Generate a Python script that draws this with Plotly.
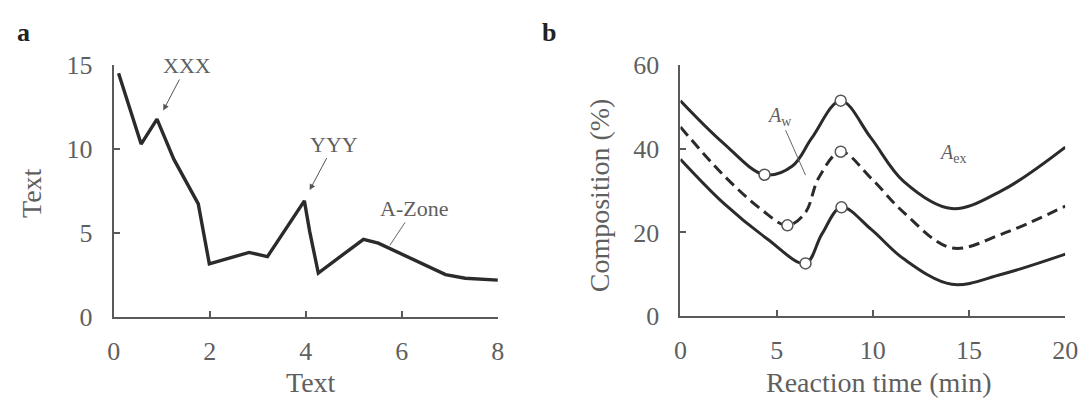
import plotly.graph_objects as go

# Panel a data
a_x = [0.1, 0.57, 0.9, 1.25, 1.76, 1.99, 2.82, 3.2, 3.97, 4.08, 4.26, 5.2, 5.51, 6.91, 7.32, 8.0]
a_y = [14.52, 10.3, 11.78, 9.4, 6.74, 3.17, 3.85, 3.6, 6.92, 5.1, 2.62, 4.63, 4.4, 2.53, 2.31, 2.2]

# Panel b data
top_x = [0, 2.2, 4.37, 5.82, 6.83, 8.33, 9.9, 11.6, 14.1, 16.7, 20]
top_y = [51.5, 41.5, 33.8, 35.9, 42.6, 51.5, 42.6, 32.2, 25.7, 30, 40.4]
mid_x = [0, 2.24, 4.2, 5.56, 6.5, 7.18, 8.33, 9.9, 11.6, 14.1, 16.7, 20]
mid_y = [45.2, 33.7, 25.5, 21.7, 24.8, 33, 39.3, 33, 24.8, 16.3, 19.6, 26.3]
bot_x = [0, 2.24, 4.5, 6.5, 7.35, 8.37, 9.9, 11.6, 14.1, 16.7, 20]
bot_y = [37.5, 27, 18.5, 12.6, 19.6, 26, 20.8, 13.7, 7.6, 10, 14.8]
circ_x = [4.37, 8.33, 5.56, 8.33, 6.5, 8.37]
circ_y = [33.8, 51.5, 21.7, 39.3, 12.6, 26]

a_xticks = [0, 2, 4, 6, 8]
a_yticks = [0, 5, 10, 15]
b_xticks = [0, 5, 10, 15, 20]
b_yticks = [0, 20, 40, 60]

LINE = "#2b2b2b"
AX = "#5a5a5a"
TXT = "#5f5f5f"
FONT = "Liberation Serif"

fig = go.Figure()
fig.add_trace(go.Scatter(x=a_x, y=a_y, mode="lines", line=dict(color=LINE, width=3.4),
                         xaxis="x", yaxis="y", showlegend=False))
fig.add_trace(go.Scatter(x=top_x, y=top_y, mode="lines", line=dict(color=LINE, width=3, shape="spline", smoothing=1.0),
                         xaxis="x2", yaxis="y2", showlegend=False))
fig.add_trace(go.Scatter(x=mid_x, y=mid_y, mode="lines", line=dict(color=LINE, width=3, dash="11px,6px", shape="spline", smoothing=1.0),
                         xaxis="x2", yaxis="y2", showlegend=False))
fig.add_trace(go.Scatter(x=bot_x, y=bot_y, mode="lines", line=dict(color=LINE, width=3, shape="spline", smoothing=1.0),
                         xaxis="x2", yaxis="y2", showlegend=False))
fig.add_trace(go.Scatter(x=circ_x, y=circ_y, mode="markers",
                         marker=dict(symbol="circle", size=11, color="white", line=dict(color="#555", width=1.5)),
                         xaxis="x2", yaxis="y2", showlegend=False))

axis_common = dict(showline=True, linecolor=AX, linewidth=2, ticks="inside", ticklen=6, tickwidth=1.5,
                   tickcolor=AX, showgrid=False, zeroline=False,
                   tickfont=dict(family=FONT, size=26, color=TXT))

fig.update_layout(
    width=1092, height=412, margin=dict(l=0, r=0, t=0, b=0),
    paper_bgcolor="white", plot_bgcolor="white",
    xaxis=dict(domain=[0.0996, 0.4579], range=[0, 8], tickvals=a_xticks, anchor="y", ticklabelstandoff=10, **axis_common),
    yaxis=dict(domain=[0.2087, 0.8665], range=[0, 15], tickvals=a_yticks, anchor="x", ticklabelstandoff=14, **axis_common),
    xaxis2=dict(domain=[0.6282, 0.9872], range=[0, 20], tickvals=b_xticks, anchor="y2", ticklabelstandoff=10, **axis_common),
    yaxis2=dict(domain=[0.2112, 0.8665], range=[0, 60], tickvals=b_yticks, anchor="x2", ticklabelstandoff=14, **axis_common),
)

tf = dict(family=FONT, size=28, color=TXT)
C = dict(xanchor="center", yanchor="middle")
ann = [
    dict(text="<b>a</b>", x=17/1092, y=1-20/412, xref="paper", yref="paper", showarrow=False,
         font=dict(family=FONT, size=26, color="#222"), **C),
    dict(text="<b>b</b>", x=552/1092, y=1-20/412, xref="paper", yref="paper", showarrow=False,
         font=dict(family=FONT, size=26, color="#222"), **C),
    dict(text="Text", x=25/1092, y=1-193/412, xref="paper", yref="paper", showarrow=False, textangle=-90, font=tf, **C),
    dict(text="Text", x=310/1092, y=1-396/412, xref="paper", yref="paper", showarrow=False, font=tf, **C),
    dict(text="Composition (%)", x=603/1092, y=1-195/412, xref="paper", yref="paper", showarrow=False, textangle=-90, font=tf, **C),
    dict(text="Reaction time (min)", x=888/1092, y=1-396/412, xref="paper", yref="paper", showarrow=False, font=tf, **C),
    # panel a annotations
    dict(text="XXX", x=1.03, y=12.3, xref="x", yref="y", ax=1.52, ay=14.98, axref="x", ayref="y",
         showarrow=True, arrowhead=2, arrowsize=1.2, arrowwidth=1, arrowcolor="#555",
         font=dict(family=FONT, size=22, color=TXT), **C),
    dict(text="YYY", x=4.08, y=7.56, xref="x", yref="y", ax=4.59, ay=10.3, axref="x", ayref="y",
         showarrow=True, arrowhead=2, arrowsize=1.2, arrowwidth=1, arrowcolor="#555",
         font=dict(family=FONT, size=22, color=TXT), **C),
    dict(text="A-Zone", x=5.75, y=4.27, xref="x", yref="y", ax=6.26, ay=6.47, axref="x", ayref="y",
         showarrow=True, arrowhead=0, arrowwidth=1, arrowcolor="#666",
         font=dict(family=FONT, size=22, color=TXT), **C),
    # panel b annotations
    dict(text="<i>A</i><sub>w</sub>", x=6.5, y=33.7, xref="x2", yref="y2", ax=5.14, ay=47.8, axref="x2", ayref="y2",
         showarrow=True, arrowhead=0, arrowwidth=1, arrowcolor="#666",
         font=dict(family=FONT, size=20, color=TXT), **C),
    dict(text="<i>A</i><sub>ex</sub>", x=14.15, y=38.9, xref="x2", yref="y2", showarrow=False,
         font=dict(family=FONT, size=20, color=TXT), **C),
]
fig.update_layout(annotations=ann)

fig.write_html("out.html")
